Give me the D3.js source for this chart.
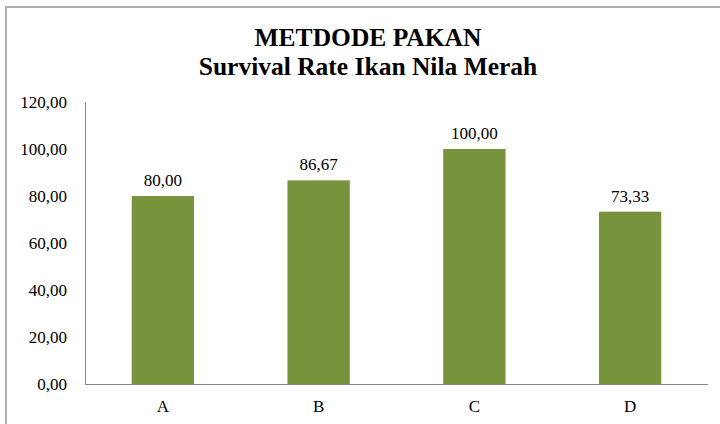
<!DOCTYPE html>
<html lang="en">
  <head>
    <meta charset="UTF-8" />
    <title>Metdode Pakan</title>
    <style>
      body { margin: 0; background: #fff; }
      text { font-family: "Liberation Serif", Tinos, "Times New Roman", Times, "DejaVu Serif", serif; fill: #000; }
      .title { font-size: 25.5px; font-weight: bold; }
      .tick-label, .value-label, .cat-label { font-size: 17px; }
      .axis-line { stroke: #888; stroke-width: 1px; }
      .bar { fill: #77933c; }
      .frame { fill: none; stroke: #b0b0b0; stroke-width: 2px; }
    </style>
  </head>
  <body>
    <script src="https://cdn.jsdelivr.net/npm/d3@7"></script>
    <script>

      var categories = ["A", "B", "C", "D"];
      var survival = [80.00, 86.67, 100.00, 73.33];
      var yTicks = [0, 20, 40, 60, 80, 100, 120];
      var titleLines = ["METDODE PAKAN", "Survival Rate Ikan Nila Merah"];

      var w = 720, h = 424;
      var margin = { top: 102, right: 12, bottom: 40, left: 85 };

      var svg = d3.select("body").append("svg")
        .attr("width", w)
        .attr("height", h);

      // chart frame (right and bottom edges run off the picture)
      svg.append("rect")
        .attr("class", "frame")
        .attr("x", 6)
        .attr("y", 7)
        .attr("width", w + 20)
        .attr("height", h + 20);

      svg.selectAll(".title")
        .data(titleLines)
        .enter()
        .append("text")
        .attr("class", "title")
        .attr("x", 368)
        .attr("y", function(d, i) { return 46 + i * 29; })
        .attr("text-anchor", "middle")
        .text(function(d) { return d; });

      var xScale = d3.scaleBand()
        .domain(categories)
        .range([margin.left, w - margin.right])
        .paddingInner(0.6)
        .paddingOuter(0.3);

      var yScale = d3.scaleLinear()
        .domain([0, 120])
        .range([h - margin.bottom, margin.top]);

      var fmt = function(v) { return d3.format(".2f")(v).replace(".", ","); };

      // y axis labels, no tick marks
      svg.selectAll(".tick-label")
        .data(yTicks)
        .enter()
        .append("text")
        .attr("class", "tick-label")
        .attr("x", 67)
        .attr("y", function(d) { return yScale(d); })
        .attr("dy", "0.35em")
        .attr("text-anchor", "end")
        .text(fmt);

      svg.selectAll(".bar")
        .data(survival)
        .enter()
        .append("rect")
        .attr("class", "bar")
        .attr("x", function(d, i) { return xScale(categories[i]); })
        .attr("width", xScale.bandwidth())
        .attr("y", function(d) { return yScale(d); })
        .attr("height", function(d) { return yScale(0) - yScale(d); });

      svg.selectAll(".value-label")
        .data(survival)
        .enter()
        .append("text")
        .attr("class", "value-label")
        .attr("x", function(d, i) { return xScale(categories[i]) + xScale.bandwidth() / 2; })
        .attr("y", function(d) { return yScale(d) - 10; })
        .attr("text-anchor", "middle")
        .text(fmt);

      svg.append("line")
        .attr("class", "axis-line")
        .attr("x1", margin.left + 0.5)
        .attr("x2", margin.left + 0.5)
        .attr("y1", yScale(120))
        .attr("y2", yScale(0));

      svg.append("line")
        .attr("class", "axis-line")
        .attr("x1", margin.left)
        .attr("x2", w - margin.right)
        .attr("y1", yScale(0) + 0.5)
        .attr("y2", yScale(0) + 0.5);

      svg.selectAll(".cat-label")
        .data(categories)
        .enter()
        .append("text")
        .attr("class", "cat-label")
        .attr("x", function(d) { return xScale(d) + xScale.bandwidth() / 2; })
        .attr("y", 412)
        .attr("text-anchor", "middle")
        .text(function(d) { return d; });

    </script>
  </body>
</html>
